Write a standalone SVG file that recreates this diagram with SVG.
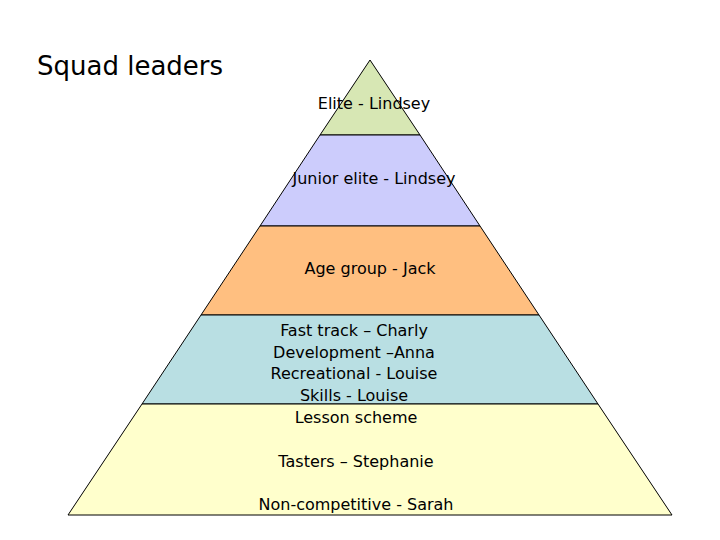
<svg xmlns="http://www.w3.org/2000/svg" width="720" height="540" viewBox="0 0 720 540">
<style>
.b{stroke:#000;stroke-width:1}
.t{font-family:"DejaVu Sans",Verdana,sans-serif;font-size:16px;fill:#000;text-anchor:middle}
</style>
<rect width="720" height="540" fill="#fff"/>
<text x="37" y="75" style="font-family:'DejaVu Sans',Verdana,sans-serif;font-size:26px">Squad leaders</text>
<g id="elite"><polygon class="b" fill="#d7e7b4" points="370,60 420,135 320,135"/><text class="t" x="374" y="109">Elite - Lindsey</text></g>
<g id="junior"><polygon class="b" fill="#ccccfc" points="320,135 420,135 480,226 260,226"/><text class="t" x="374" y="184">Junior elite - Lindsey</text></g>
<g id="age"><polygon class="b" fill="#ffbf80" points="260,226 480,226 539,315 201,315"/><text class="t" x="370" y="274">Age group - Jack</text></g>
<g id="fast"><polygon class="b" fill="#b9dfe3" points="201,315 539,315 598,404 142,404"/><text class="t" x="354" y="336">Fast track – Charly</text><text class="t" x="354" y="358">Development –Anna</text><text class="t" x="354" y="379">Recreational - Louise</text><text class="t" x="354" y="401">Skills - Louise</text></g>
<g id="base"><polygon class="b" fill="#ffffcc" points="142,404 598,404 672,515 68,515"/><text class="t" x="356" y="423">Lesson scheme</text><text class="t" x="356" y="467">Tasters – Stephanie</text><text class="t" x="356" y="510">Non-competitive - Sarah</text></g>
<g id="connectors"/>
</svg>
